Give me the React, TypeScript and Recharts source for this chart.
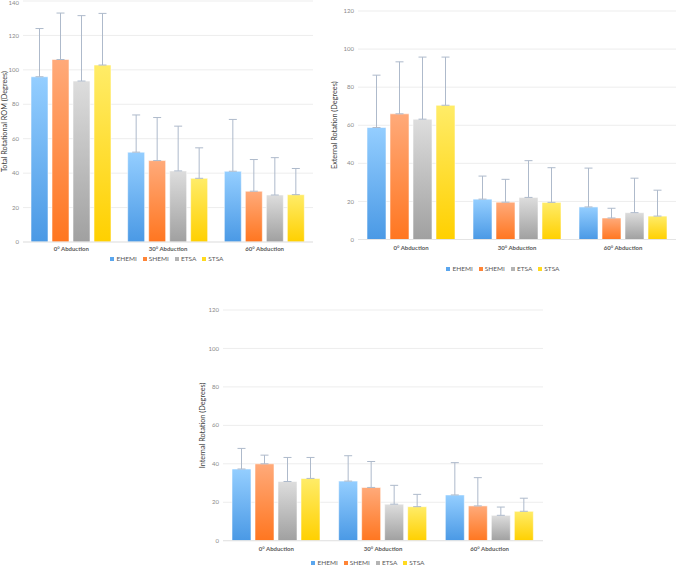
import { BarChart, Bar, XAxis, YAxis, CartesianGrid, Legend, ErrorBar } from "recharts";

const categories = ["0° Abduction", "30° Abduction", "60° Abduction"];
const groups = ["EHEMI", "SHEMI", "ETSA", "STSA"];

// rows = abduction angle, columns = EHEMI, SHEMI, ETSA, STSA
const totalMean = [
  [96, 106, 93.5, 102.8],
  [52.2, 47.3, 41.3, 37],
  [41.1, 29.5, 27.3, 27.5],
];
const totalSd = [
  [28, 27, 38, 30],
  [21.6, 25, 26, 17.7],
  [30.1, 18.4, 21.7, 15.2],
];
const externalMean = [
  [58.8, 66, 63.2, 70.5],
  [21.2, 19.6, 22.1, 19.5],
  [17.1, 11.3, 14.1, 12.3],
];
const externalSd = [
  [27.5, 27.3, 32.6, 25.3],
  [12.1, 12, 19.3, 18.2],
  [20.4, 5.1, 18.1, 13.6],
];
const internalMean = [
  [37.3, 40, 30.8, 32.4],
  [31, 27.7, 19, 17.7],
  [23.8, 18.1, 13.2, 15.3],
];
const internalSd = [
  [10.7, 4.5, 12.5, 10.9],
  [13.2, 13.5, 9.8, 6.4],
  [16.8, 14.7, 4.3, 6.8],
];

const totalTicks = [0, 20, 40, 60, 80, 100, 120, 140];
const rotationTicks = [0, 20, 40, 60, 80, 100, 120];

const palette = [
  { top: "#94ceff", bottom: "#4a99e5", swatch: "#5aa6ee" },
  { top: "#ffaa7a", bottom: "#ff7620", swatch: "#ff8436" },
  { top: "#dddddd", bottom: "#a0a0a0", swatch: "#b4b4b4" },
  { top: "#ffec68", bottom: "#ffd000", swatch: "#ffda20" },
];

function buildRows(mean: number[][], sd: number[][]) {
  return categories.map((category, i) => {
    const row: Record<string, any> = { category };
    groups.forEach((g, j) => {
      row[g] = mean[i][j];
      row[g + "Err"] = [0, sd[i][j]]; // only the upper whisker is drawn
    });
    return row;
  });
}

const renderLegend = () => (
  <div
    style={{
      display: "flex",
      justifyContent: "center",
      alignItems: "center",
      gap: 6,
      fontSize: 6.5,
      lineHeight: "10px",
      color: "#595959",
    }}
  >
    {groups.map((g, i) => (
      <span key={g} style={{ display: "inline-flex", alignItems: "center" }}>
        <span style={{ width: 4, height: 4, background: palette[i].swatch, marginRight: 2 }} />
        {g}
      </span>
    ))}
  </div>
);

interface PanelProps {
  id: string;
  mean: number[][];
  sd: number[][];
  ticks: number[];
  yLabel: string;
  left: number;
  top: number;
  width: number;
  height: number;
  margin: { top: number; right: number; left: number; bottom: number };
  yAxisWidth: number;
  xAxisHeight: number;
  xTickMargin: number;
  labelOffset: number;
  barSize: number;
}

function Panel(p: PanelProps) {
  const data = buildRows(p.mean, p.sd);
  const max = p.ticks[p.ticks.length - 1];
  return (
    <div style={{ position: "absolute", left: p.left, top: p.top }}>
      <BarChart width={p.width} height={p.height} data={data} margin={p.margin} barSize={p.barSize} barGap={4}>
        <defs>
          {palette.map((c, i) => (
            <linearGradient key={i} id={`${p.id}-g${i}`} x1="0" y1="0" x2="0" y2="1">
              <stop offset="0%" stopColor={c.top} />
              <stop offset="100%" stopColor={c.bottom} />
            </linearGradient>
          ))}
        </defs>
        <CartesianGrid vertical={false} stroke="#ededed" />
        <XAxis
          dataKey="category"
          height={p.xAxisHeight}
          interval={0}
          tickLine={false}
          tickSize={0}
          tickMargin={p.xTickMargin}
          axisLine={{ stroke: "#e4e4e4" }}
          tick={{ fontSize: 6, fontWeight: 700, fill: "#595959" }}
        />
        <YAxis
          width={p.yAxisWidth}
          domain={[0, max]}
          ticks={p.ticks}
          axisLine={false}
          tickLine={false}
          tickSize={0}
          tickMargin={4}
          tick={{ fontSize: 6, fill: "#8a8a8a" }}
          label={{
            value: p.yLabel,
            angle: -90,
            position: "insideLeft",
            offset: p.labelOffset,
            style: { textAnchor: "middle", fontSize: 7.3, fill: "#404040" },
          }}
        />
        <Legend verticalAlign="bottom" height={10} wrapperStyle={{ left: 0, width: p.width }} content={renderLegend} />
        {groups.map((g, i) => (
          <Bar
            key={g}
            dataKey={g}
            fill={`url(#${p.id}-g${i})`}
            stroke="rgba(255,255,255,0.55)"
            strokeWidth={1}
            isAnimationActive={false}
          >
            <ErrorBar dataKey={g + "Err"} direction="y" width={4} stroke="#aebacb" strokeWidth={1} isAnimationActive={false} />
          </Bar>
        ))}
      </BarChart>
    </div>
  );
}

export default function App() {
  return (
    <div
      style={{
        position: "absolute",
        left: 0,
        top: 0,
        width: 676,
        height: 566,
        background: "#fff",
        fontFamily: "Lato, 'Open Sans', sans-serif",
        overflow: "hidden",
      }}
    >
      <Panel
        id="total"
        mean={totalMean}
        sd={totalSd}
        ticks={totalTicks}
        yLabel="Total Rotational ROM (Degrees)"
        left={0}
        top={0}
        width={334}
        height={264}
        margin={{ top: 1, right: 21, left: 0, bottom: 0 }}
        yAxisWidth={23}
        xAxisHeight={12}
        xTickMargin={5}
        labelOffset={4}
        barSize={17}
      />
      <Panel
        id="external"
        mean={externalMean}
        sd={externalSd}
        ticks={rotationTicks}
        yLabel="External Rotation (Degrees)"
        left={330}
        top={0}
        width={346}
        height={274}
        margin={{ top: 11, right: 0, left: 0, bottom: 0 }}
        yAxisWidth={28}
        xAxisHeight={24.5}
        xTickMargin={6.3}
        labelOffset={4}
        barSize={19}
      />
      <Panel
        id="internal"
        mean={internalMean}
        sd={internalSd}
        ticks={rotationTicks}
        yLabel="Internal Rotation (Degrees)"
        left={193}
        top={280}
        width={350}
        height={288}
        margin={{ top: 30, right: 0, left: 0, bottom: 0 }}
        yAxisWidth={30}
        xAxisHeight={17.3}
        xTickMargin={6}
        labelOffset={9}
        barSize={19}
      />
    </div>
  );
}
